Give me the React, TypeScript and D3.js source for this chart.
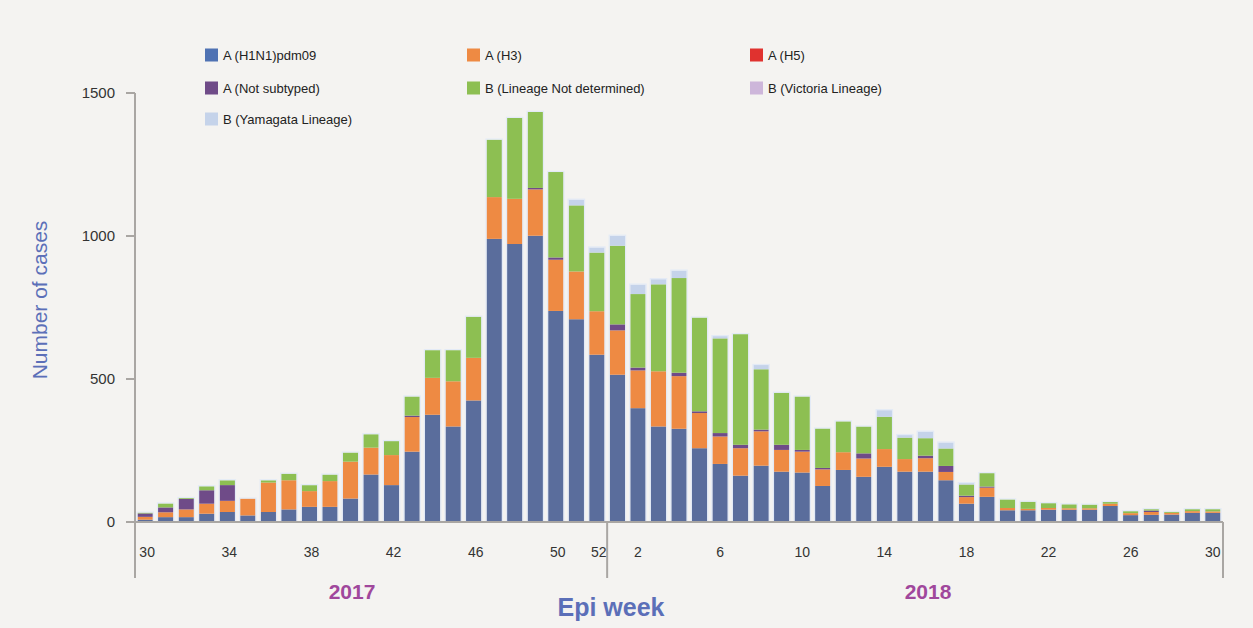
import React from "react";
import * as d3 from "d3";

const weeks2017 = [30,31,32,33,34,35,36,37,38,39,40,41,42,43,44,45,46,47,48,49,50,51,52];
const weeks2018 = [1,2,3,4,5,6,7,8,9,10,11,12,13,14,15,16,17,18,19,20,21,22,23,24,25,26,27,28,29,30];
const tickWeeks2017 = [30,34,38,42,46,50,52];
const tickWeeks2018 = [2,6,10,14,18,22,26,30];
const yTicks = [0, 500, 1000, 1500];

const h1n1 = [
  8, 17, 17, 29, 35, 23, 35, 44, 53, 53,
  82, 166, 129, 246, 375, 334, 425, 990, 972, 1001, 738, 709, 585,
  515, 398, 334, 326, 258, 203, 162, 197, 176, 173,
  126, 182, 158, 193, 176, 176, 146, 64, 88, 41,
  41, 43, 43, 43, 56, 24, 25, 26, 32, 32,
];
const h3 = [
  10, 17, 27, 35, 39, 59, 103, 102, 55, 90,
  129, 94, 105, 121, 129, 158, 149, 146, 158, 162, 179, 167, 152,
  155, 132, 193, 184, 123, 96, 96, 120, 76, 73,
  58, 62, 64, 62, 44, 47, 29, 23, 32, 8,
  5, 6, 5, 5, 8, 7, 10, 6, 6, 5,
];
const h5 = [
  0, 0, 0, 0, 0, 0, 0, 0, 0, 0,
  0, 0, 0, 0, 0, 0, 0, 0, 0, 0, 0, 0, 0,
  0, 0, 0, 0, 0, 0, 0, 0, 0, 0,
  0, 0, 0, 0, 0, 0, 0, 0, 0, 0,
  0, 0, 0, 0, 0, 0, 0, 0, 0, 0,
];
const notSubtyped = [
  12, 17, 37, 47, 55, 0, 0, 0, 0, 0,
  0, 0, 0, 5, 0, 0, 0, 0, 0, 5, 8, 0, 0,
  21, 10, 0, 12, 6, 12, 12, 6, 18, 6,
  5, 0, 18, 0, 0, 9, 21, 5, 4, 0,
  0, 0, 0, 0, 0, 0, 5, 0, 0, 0,
];
const bNotDetermined = [
  3, 14, 3, 14, 17, 0, 8, 23, 21, 23,
  32, 47, 49, 67, 97, 109, 144, 201, 283, 266, 299, 231, 205,
  275, 257, 304, 331, 328, 331, 387, 211, 182, 187,
  138, 108, 94, 113, 75, 61, 61, 39, 47, 30,
  25, 17, 14, 13, 6, 7, 5, 4, 7, 8,
];
const bVictoria = [
  0, 0, 0, 0, 0, 0, 0, 0, 0, 0,
  0, 0, 0, 0, 0, 0, 0, 0, 0, 0, 0, 0, 0,
  0, 0, 0, 0, 0, 0, 0, 0, 0, 0,
  0, 0, 0, 0, 0, 0, 0, 0, 0, 0,
  0, 0, 0, 0, 0, 0, 0, 0, 0, 0,
];
const bYamagata = [
  0, 0, 0, 0, 0, 0, 0, 0, 0, 0,
  0, 0, 0, 0, 0, 0, 0, 0, 0, 0, 0, 20, 18,
  35, 33, 18, 26, 0, 8, 0, 15, 0, 0,
  0, 0, 0, 23, 9, 23, 21, 5, 0, 0,
  0, 0, 0, 0, 0, 0, 0, 0, 0, 0,
];

const seriesNames = [
  "A (H1N1)pdm09",
  "A (H3)",
  "A (H5)",
  "A (Not subtyped)",
  "B (Lineage Not determined)",
  "B (Victoria Lineage)",
  "B (Yamagata Lineage)",
];
const seriesValues = [h1n1, h3, h5, notSubtyped, bNotDetermined, bVictoria, bYamagata];
const colors = ["#5a6d9c", "#ee8a43", "#e0322f", "#6f4b88", "#8dbf52", "#cdb6da", "#c5d3ea"];
const legendColors = ["#4f72b3", "#ee8a43", "#e0322f", "#6f4b88", "#8dbf52", "#cdb6da", "#c5d3ea"];

const W = 1253;
const H = 628;
const xLeft = 135;
const xRight = 1223;
const yTop = 93;
const yBase = 522;

export default function App() {
  const keys = [
    ...weeks2017.map((w) => "2017-" + w),
    ...weeks2018.map((w) => "2018-" + w),
  ];
  const rows = keys.map((k, i) => {
    const r: any = { key: k };
    seriesNames.forEach((n, j) => (r[n] = seriesValues[j][i]));
    return r;
  });
  const stacked = d3.stack<any>().keys(seriesNames)(rows);

  const x = d3.scaleBand<string>().domain(keys).range([xLeft, xRight]).paddingInner(0.25).paddingOuter(0.12);
  const y = d3.scaleLinear().domain([0, 1500]).range([yBase, yTop]);

  const sepX = ((x("2017-52") as number) + x.bandwidth() + (x("2018-1") as number)) / 2;

  const legendCols = [205, 467, 750];
  const legendRows = [55, 88, 119];

  const font = "'Liberation Sans', Arial, sans-serif";

  return (
    <svg width={W} height={H} style={{ position: "absolute", left: 0, top: 0, background: "#f4f3f1" }}>
      <rect x={0} y={0} width={W} height={H} fill="#f4f3f1" />
      {/* bars */}
      {stacked.map((s, si) => (
        <g key={si} fill={colors[si]}>
          {s.map((d, i) =>
            d[1] - d[0] > 0 ? (
              <rect
                key={i}
                x={x(keys[i]) as number}
                y={y(d[1])}
                width={x.bandwidth()}
                height={y(d[0]) - y(d[1])}
              />
            ) : null
          )}
        </g>
      ))}
      {/* bar outlines */}
      {keys.map((k, i) => {
        const top = stacked[stacked.length - 1][i][1];
        return (
          <rect
            key={k}
            x={(x(k) as number) - 0.5}
            y={y(top) - 0.5}
            width={x.bandwidth() + 1}
            height={yBase - y(top) + 0.5}
            fill="none"
            stroke="#e3eaf6"
            strokeWidth={1.2}
          />
        );
      })}
      {/* y axis */}
      <line x1={xLeft} x2={xLeft} y1={yTop} y2={578} stroke="#a9a6a3" strokeWidth={2} />
      {yTicks.map((t) => (
        <g key={t}>
          <line x1={xLeft - 9} x2={xLeft} y1={y(t)} y2={y(t)} stroke="#a9a6a3" strokeWidth={2} />
          <text
            x={xLeft - 20}
            y={y(t)}
            dy="0.35em"
            textAnchor="end"
            fontSize={15}
            fontFamily={font}
            fill="#333"
          >
            {t}
          </text>
        </g>
      ))}
      {/* baseline */}
      <line x1={xLeft - 9} x2={xRight} y1={yBase} y2={yBase} stroke="#a9a6a3" strokeWidth={2} />
      <line x1={sepX} x2={sepX} y1={yBase} y2={578} stroke="#a9a6a3" strokeWidth={2} />
      <line x1={xRight} x2={xRight} y1={yBase} y2={578} stroke="#a9a6a3" strokeWidth={2} />
      {/* x tick labels */}
      {tickWeeks2017.map((w) => (
        <text
          key={"a" + w}
          x={(x("2017-" + w) as number) + x.bandwidth() / 2 + 2}
          y={552}
          dy="0.35em"
          textAnchor="middle"
          fontSize={14}
          fontFamily={font}
          fill="#333"
        >
          {w}
        </text>
      ))}
      {tickWeeks2018.map((w) => (
        <text
          key={"b" + w}
          x={(x("2018-" + w) as number) + x.bandwidth() / 2}
          y={552}
          dy="0.35em"
          textAnchor="middle"
          fontSize={14}
          fontFamily={font}
          fill="#333"
        >
          {w}
        </text>
      ))}
      <text x={352} y={592} dy="0.35em" textAnchor="middle" fontSize={21} fontWeight="bold" fontFamily={font} fill="#a0479c">
        2017
      </text>
      <text x={928} y={592} dy="0.35em" textAnchor="middle" fontSize={21} fontWeight="bold" fontFamily={font} fill="#a0479c">
        2018
      </text>
      <text x={611} y={607} dy="0.35em" textAnchor="middle" fontSize={25} fontWeight="bold" fontFamily={font} fill="#5b6fb8">
        Epi week
      </text>
      <text
        transform={`translate(40,300) rotate(-90)`}
        textAnchor="middle"
        dy="0.35em"
        fontSize={21}
        fontFamily={font}
        fill="#5b6fb8"
      >
        Number of cases
      </text>
      {/* legend */}
      {seriesNames.map((n, i) => {
        const col = i % 3;
        const row = Math.floor(i / 3);
        const lx = legendCols[col];
        const ly = legendRows[row];
        return (
          <g key={n}>
            <rect x={lx} y={ly - 6.5} width={13} height={13} fill={legendColors[i]} />
            <text x={lx + 18} y={ly} dy="0.35em" fontSize={13} fontFamily={font} fill="#222">
              {n}
            </text>
          </g>
        );
      })}
    </svg>
  );
}
